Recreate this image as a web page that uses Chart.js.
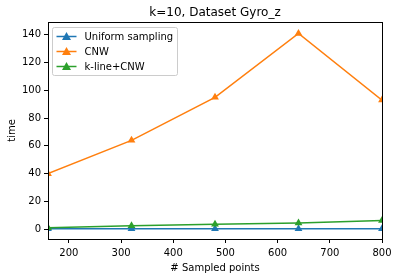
<!DOCTYPE html>
<html><head><meta charset="utf-8">
<script src="https://cdn.jsdelivr.net/npm/chart.js@4"></script>
<style>html,body{margin:0;padding:0;background:#fff}#w{width:398px;height:278px}</style>
</head><body><div id="w"><canvas id="c"></canvas></div>
<script>
const sampledPoints = [160, 320, 480, 640, 800];
const uniformSampling = [0.2, 0.2, 0.2, 0.2, 0.2];
const cnw = [40, 64, 95, 141, 93];
const klineCnw = [1.0, 2.5, 3.5, 4.5, 6.2];
const xTicks = [200, 300, 400, 500, 600, 700, 800];
const yTicks = [0, 20, 40, 60, 80, 100, 120, 140];
const seriesNames = ['Uniform sampling', 'CNW', 'k-line+CNW'];
const colors = ['#1f77b4', '#ff7f0e', '#2ca02c'];
const titleText = 'k=10, Dataset Gyro_z';

const FONT = 'DejaVu Sans';
function mk(vals, i, order) {
  return {
    label: seriesNames[i],
    data: sampledPoints.map((x, j) => ({x: x, y: vals[j]})),
    borderColor: colors[i], backgroundColor: colors[i],
    borderWidth: 1.5, pointStyle: 'triangle', pointRadius: 4.5,
    pointBorderWidth: 0, pointHoverRadius: 4.5, clip: 0, order: order, tension: 0
  };
}
const deco = {
  id: 'deco',
  afterDatasetsDraw(chart) {
    const ctx = chart.ctx, a = chart.chartArea;
    ctx.save();
    ctx.strokeStyle = '#000'; ctx.lineWidth = 1;
    ctx.strokeRect(Math.round(a.left) + 0.5, Math.round(a.top) + 0.5, Math.round(a.right - a.left), Math.round(a.bottom - a.top));
    // title
    ctx.fillStyle = '#000'; ctx.font = '12px "' + FONT + '"';
    ctx.textAlign = 'center'; ctx.textBaseline = 'alphabetic';
    ctx.fillText(titleText, (a.left + a.right) / 2, a.top - 6);
    // legend
    const bx = a.left + 4.5, by = a.top + 5.5, bw = 125, bh = 48;
    ctx.beginPath();
    if (ctx.roundRect) ctx.roundRect(bx, by, bw, bh, 2); else ctx.rect(bx, by, bw, bh);
    ctx.fillStyle = 'rgba(255,255,255,0.8)'; ctx.fill();
    ctx.strokeStyle = '#cccccc'; ctx.stroke();
    ctx.font = '10px "' + FONT + '"'; ctx.textAlign = 'left'; ctx.textBaseline = 'middle';
    seriesNames.forEach((n, i) => {
      const yy = by + 9 + i * 15;
      ctx.strokeStyle = colors[i]; ctx.lineWidth = 1.5;
      ctx.beginPath(); ctx.moveTo(bx + 4, yy); ctx.lineTo(bx + 24, yy); ctx.stroke();
      ctx.fillStyle = colors[i];
      const cx = bx + 14, r = 4.5;
      ctx.beginPath(); ctx.moveTo(cx, yy - r); ctx.lineTo(cx + r, yy + r * 0.75); ctx.lineTo(cx - r, yy + r * 0.75); ctx.closePath(); ctx.fill();
      ctx.fillStyle = '#000';
      ctx.fillText(n, bx + 32, yy + 0.5);
    });
    ctx.restore();
  }
};
new Chart(document.getElementById('c'), {
  type: 'line',
  data: { datasets: [mk(uniformSampling, 0, 3), mk(cnw, 1, 2), mk(klineCnw, 2, 1)] },
  options: {
    responsive: true, maintainAspectRatio: false, animation: false,
    layout: { padding: { left: 0, right: 16, top: 22, bottom: 4 } },
    plugins: { legend: { display: false }, title: { display: false }, tooltip: { enabled: false } },
    scales: {
      x: {
        type: 'linear', min: 160, max: 800,
        afterBuildTicks: s => { s.ticks = xTicks.map(v => ({value: v})); },
        afterFit: s => { s.height = 35; },
        grid: { drawOnChartArea: false, drawTicks: true, tickLength: 4, color: '#000', tickWidth: 1 },
        border: { display: false },
        ticks: { color: '#000', font: { family: FONT, size: 10 }, padding: 4, maxRotation: 0 },
        title: { display: true, text: '# Sampled points', color: '#000', font: { family: FONT, size: 10 }, padding: { top: 2, bottom: 0 } }
      },
      y: {
        type: 'linear', min: -7.1, max: 149.3,
        afterBuildTicks: s => { s.ticks = yTicks.map(v => ({value: v})); },
        afterFit: s => { s.width = 48; },
        grid: { drawOnChartArea: false, drawTicks: true, tickLength: 4, color: '#000', tickWidth: 1 },
        border: { display: false },
        ticks: { color: '#000', font: { family: FONT, size: 10 }, padding: 3 },
        title: { display: true, text: 'time', color: '#000', font: { family: FONT, size: 10 }, padding: { top: 6, bottom: 0 } }
      }
    }
  },
  plugins: [deco]
});
</script></body></html>
